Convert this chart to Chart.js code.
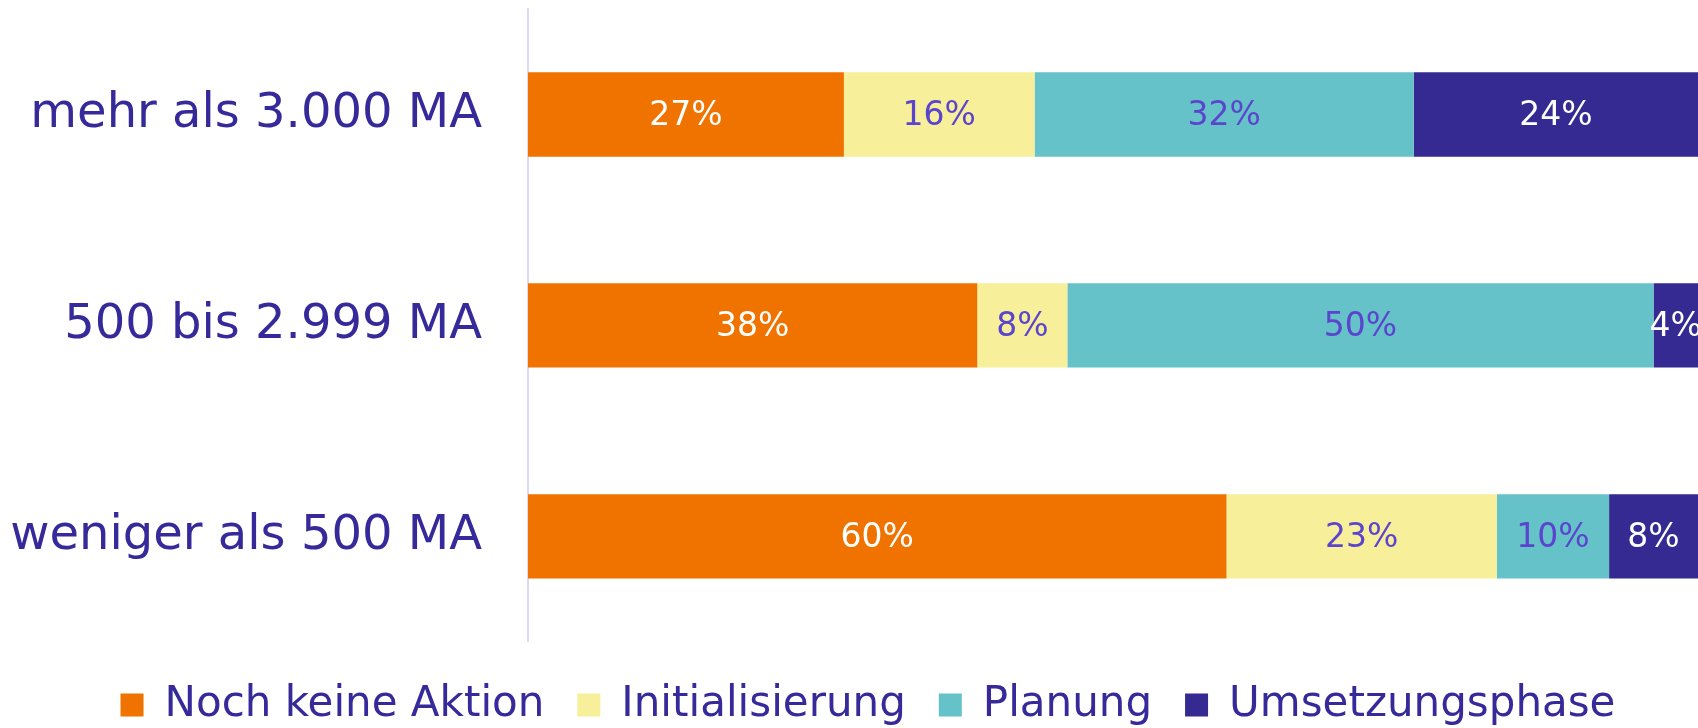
<!DOCTYPE html>
<html>
<head>
<meta charset="utf-8">
<script src="https://cdn.jsdelivr.net/npm/chart.js@4"></script>
<style>
    html, body { margin: 0; padding: 0; background: #ffffff; }
    #wrap { width: 1698px; height: 728px; position: relative; }
</style>
</head>
<body>
<div id="wrap"><canvas id="chartBalken"></canvas></div>
<script>
// Daten
const kategorien = ['mehr als 3.000 MA', '500 bis 2.999 MA', 'weniger als 500 MA'];
const nochKeineAktion = [27.0, 38.4, 59.7];
const initialisierung = [16.3, 7.7, 23.1];
const planung = [32.4, 50.1, 9.6];
const umsetzungsphase = [24.3, 3.8, 7.6];

const farben = ['#F07300', '#F7EF99', '#64C2C8', '#352A92'];
const labelFarben = ['#ffffff', '#5B44CE', '#5B44CE', '#ffffff'];
const textFarbe = '#36299A';
const schrift = "'DejaVu Sans', Verdana, sans-serif";

// Prozentwerte in die Balken schreiben
const wertLabels = {
    id: 'wertLabels',
    afterDatasetsDraw(chart) {
        const ctx = chart.ctx;
        ctx.save();
        ctx.font = '33px ' + schrift;
        ctx.textAlign = 'center';
        ctx.textBaseline = 'middle';
        chart.data.datasets.forEach((ds, i) => {
            const meta = chart.getDatasetMeta(i);
            meta.data.forEach((bar, j) => {
                const x = (bar.x + bar.base) / 2;
                ctx.fillStyle = labelFarben[i];
                ctx.fillText(Math.round(ds.data[j]) + '%', x, bar.y + 2);
            });
        });
        ctx.restore();
    }
};

// Legende etwas nach rechts schieben
const legendeVersatz = {
    id: 'legendeVersatz',
    afterLayout(chart) {
        if (chart.legend) chart.legend.left = 38;
    }
};

const ctx = document.getElementById('chartBalken').getContext('2d');
new Chart(ctx, {
    type: 'bar',
    data: {
        labels: kategorien,
        datasets: [
            { label: 'Noch keine Aktion', data: nochKeineAktion, backgroundColor: farben[0] },
            { label: 'Initialisierung', data: initialisierung, backgroundColor: farben[1] },
            { label: 'Planung', data: planung, backgroundColor: farben[2] },
            { label: 'Umsetzungsphase', data: umsetzungsphase, backgroundColor: farben[3] }
        ]
    },
    options: {
        indexAxis: 'y',
        responsive: true,
        maintainAspectRatio: false,
        animation: false,
        layout: { padding: { top: 9, right: 0, left: 0, bottom: -8 } },
        datasets: { bar: { categoryPercentage: 1, barPercentage: 0.4, borderWidth: 0 } },
        scales: {
            x: {
                stacked: true,
                min: 0,
                max: 100,
                display: false
            },
            y: {
                stacked: true,
                afterFit: (scale) => {
                    scale.width = 528;
                    scale.paddingTop = 0;
                    scale.paddingBottom = 0;
                },
                border: { display: true, color: '#D9D9F3', width: 2 },
                grid: { display: false, drawTicks: false },
                ticks: {
                    padding: 46,
                    color: textFarbe,
                    font: { family: schrift, size: 48 }
                }
            }
        },
        plugins: {
            tooltip: { enabled: false },
            legend: {
                position: 'bottom',
                title: { display: true, text: ' ', font: { size: 1 }, padding: 4 },
                labels: {
                    color: textFarbe,
                    boxWidth: 23,
                    boxHeight: 23,
                    padding: 33,
                    font: { family: schrift, size: 42 }
                }
            }
        }
    },
    plugins: [wertLabels, legendeVersatz]
});
</script>
</body>
</html>
